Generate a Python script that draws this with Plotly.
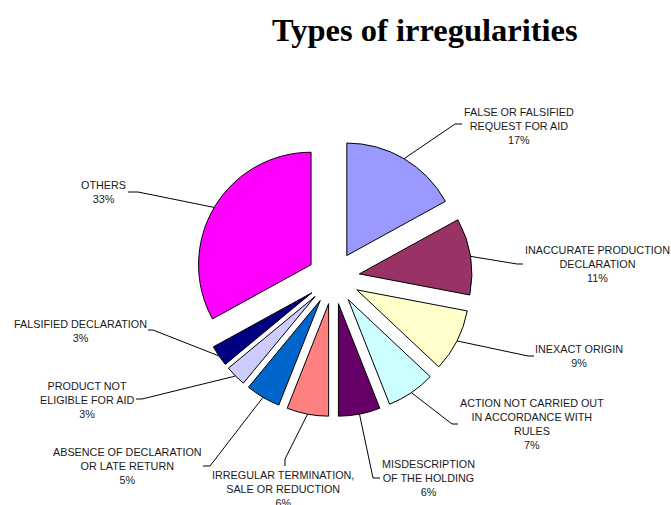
import math
import plotly.graph_objects as go

# Share of irregularities by type (percent), clockwise from 12 o'clock
categories = [
    "FALSE OR FALSIFIED<br>REQUEST FOR AID",
    "INACCURATE PRODUCTION<br>DECLARATION",
    "INEXACT ORIGIN",
    "ACTION NOT CARRIED OUT<br>IN ACCORDANCE WITH<br>RULES",
    "MISDESCRIPTION<br>OF THE HOLDING",
    "IRREGULAR TERMINATION,<br>SALE OR REDUCTION",
    "ABSENCE OF DECLARATION<br>OR LATE RETURN",
    "PRODUCT NOT<br>ELIGIBLE FOR AID",
    "FALSIFIED DECLARATION",
    "OTHERS",
]
shares = [17, 11, 9, 7, 6, 6, 5, 3, 3, 33]
colors = ["#9999FF", "#993366", "#FFFFCC", "#CCFFFF", "#660066",
          "#FF8080", "#0066CC", "#CCCCFF", "#000080", "#FF00FF"]

W, H = 671, 505
PULL = 0.232
DOM_X = [0.2905, 0.7036]
DOM_Y = [0.1750, 0.7240]

# Label placement (pixel positions): label centre, then elbow and end of leader
label_pos = [(519, 126), (597, 264), (579, 356), (532, 424), (428, 478),
             (283, 489), (127, 466), (87, 400), (80, 331), (103, 192)]
leader_elbow = [(455, 124), (517, 264), (528, 356), (452, 424), (373, 478),
                (285, 459), (210, 466), (142, 399), (153, 330), (138, 192)]
leader_end = [(462, 124), (523, 264), (534, 356), (458, 424), (380, 478),
              (285, 466), (203, 466), (136, 399), (148, 330), (128, 192)]


def px(x, y):
    return x / W, 1 - y / H


# Pie geometry as plotly lays it out inside the domain
box_w = W * (DOM_X[1] - DOM_X[0])
box_h = H * (DOM_Y[1] - DOM_Y[0])
radius = min(box_w, box_h) / 2 / (1 + PULL)
cx = W * (DOM_X[0] + DOM_X[1]) / 2
cy = H * (1 - DOM_Y[0]) - box_h / 2

fig = go.Figure(go.Pie(
    labels=categories,
    values=shares,
    sort=False,
    direction="clockwise",
    rotation=0,
    pull=[PULL] * len(shares),
    marker=dict(colors=colors, line=dict(color="#000000", width=1)),
    textinfo="none",
    hoverinfo="label+percent",
    domain=dict(x=DOM_X, y=DOM_Y),
    showlegend=False,
))

total = sum(shares)
cum = 0
shapes = []
annotations = []
for i, (lab, v) in enumerate(zip(categories, shares)):
    mid = (cum + v / 2) / total * 2 * math.pi
    cum += v
    # outer edge of the exploded slice at its mid-angle
    sx = cx + (1 + PULL) * radius * math.sin(mid)
    sy = cy - (1 + PULL) * radius * math.cos(mid)
    p0 = px(sx, sy)
    p1 = px(*leader_elbow[i])
    p2 = px(*leader_end[i])
    shapes.append(dict(
        type="path", xref="paper", yref="paper",
        path=f"M {p0[0]} {p0[1]} L {p1[0]} {p1[1]} L {p2[0]} {p2[1]}",
        line=dict(color="#000000", width=1),
    ))
    lx, ly = px(*label_pos[i])
    pct = round(v / total * 100)
    annotations.append(dict(
        x=lx, y=ly, xref="paper", yref="paper",
        xanchor="center", yanchor="middle", align="center",
        text=f"{lab}<br>{pct}%", showarrow=False,
        font=dict(family="Liberation Sans, Arial, sans-serif", size=10.8,
                  color="#1a1a1a"),
    ))

annotations.append(dict(
    x=425 / W, y=1 - 30 / H, xref="paper", yref="paper",
    xanchor="center", yanchor="middle",
    text="<b>Types of irregularities</b>", showarrow=False,
    font=dict(family="Liberation Serif, Times New Roman, serif", size=32.5,
              color="#000000"),
))

fig.update_layout(
    width=W, height=H,
    margin=dict(l=0, r=0, t=0, b=0),
    paper_bgcolor="#FFFFFF",
    plot_bgcolor="#FFFFFF",
    shapes=shapes,
    annotations=annotations,
)

fig.write_html("out.html")
